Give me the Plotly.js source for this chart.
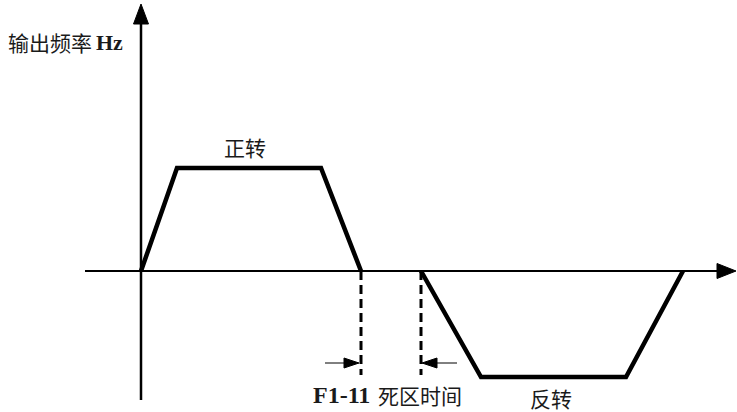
<!DOCTYPE html>
<html>
<head>
<meta charset="utf-8">
<script src="https://cdn.plot.ly/plotly-3.0.1.min.js"></script>
<style>
  html, body { margin: 0; padding: 0; background: #ffffff; }
  #chart { width: 737px; height: 412px; }
</style>
</head>
<body>
<div id="chart"></div>
<script>
// time axis (sketch units) and output frequency (sketch units)
var fwdTime = [0, 36, 180, 220];
var fwdFreq = [0, 103, 103, 0];
var revTime = [280, 340, 485, 542];
var revFreq = [0, -106, -106, 0];
var deadStart = 220;   // end of forward run
var deadEnd = 280;     // start of reverse run
var deadDepth = -104;  // how far the dashed markers drop

var ink = "#000000";
var textInk = "#1a1a1a";
var cjk = "Noto Sans CJK SC, sans-serif";
var serif = "Liberation Serif, DejaVu Serif, serif";

// filled arrow head, tip at (x,y), pointing dir ("up","right","left")
function head(x, y, dir, len, half) {
    var p;
    if (dir == "up") p = [[x, y], [x - half, y - len], [x + half, y - len]];
    else if (dir == "right") p = [[x, y], [x - len, y + half], [x - len, y - half]];
    else p = [[x, y], [x + len, y + half], [x + len, y - half]];
    return {
        type: "path", xref: "x", yref: "y",
        path: "M" + p.map(function (q) { return q[0] + "," + q[1]; }).join("L") + "Z",
        fillcolor: ink, line: { color: ink, width: 1 }
    };
}

var traces = [
    { x: [-56, 577], y: [0, 0], mode: "lines", line: { color: ink, width: 2 } },
    { x: [0, 0], y: [-129, 248], mode: "lines", line: { color: ink, width: 2.5 } },
    { x: fwdTime, y: fwdFreq, mode: "lines", line: { color: ink, width: 4.5 } },
    { x: revTime, y: revFreq, mode: "lines", line: { color: ink, width: 4.5 } },
    { x: [deadStart, deadStart], y: [0, deadDepth], mode: "lines", line: { color: ink, width: 3, dash: "9px,5px" } },
    { x: [deadEnd, deadEnd], y: [0, deadDepth], mode: "lines", line: { color: ink, width: 3, dash: "9px,5px" } },
    { x: [deadStart - 36, deadStart - 10], y: [-92, -92], mode: "lines", line: { color: ink, width: 1 } },
    { x: [deadEnd + 10, deadEnd + 36], y: [-92, -92], mode: "lines", line: { color: ink, width: 1 } }
];

var shapes = [
    head(595, 0, "right", 19, 7.5),
    head(0, 267, "up", 20, 7.5),
    head(deadStart - 2, -92, "right", 15, 5),
    head(deadEnd + 1, -92, "left", 15, 5)
];

var annotations = [
    { x: -135, y: 229, xanchor: "left", yanchor: "middle", showarrow: false,
      text: "输出频率", font: { family: cjk, size: 21, color: textInk } },
    { x: -47, y: 229, xanchor: "left", yanchor: "middle", showarrow: false,
      text: "<b>Hz</b>", font: { family: serif, size: 22, color: textInk } },
    { x: 104, y: 124, xanchor: "center", yanchor: "middle", showarrow: false,
      text: "正转", font: { family: cjk, size: 21, color: textInk } },
    { x: 170, y: -124, xanchor: "left", yanchor: "middle", showarrow: false,
      text: "<b>F1-11</b>", font: { family: serif, size: 24, color: textInk } },
    { x: 235, y: -124, xanchor: "left", yanchor: "middle", showarrow: false,
      text: "死区时间", font: { family: cjk, size: 21, color: textInk } },
    { x: 410, y: -127, xanchor: "center", yanchor: "middle", showarrow: false,
      text: "反转", font: { family: cjk, size: 21, color: textInk } }
];

var layout = {
    width: 737, height: 412,
    margin: { l: 0, r: 0, t: 0, b: 0 },
    paper_bgcolor: "#ffffff", plot_bgcolor: "#ffffff",
    showlegend: false,
    xaxis: { range: [-141, 596], visible: false, fixedrange: true },
    yaxis: { range: [-141, 271], visible: false, fixedrange: true },
    shapes: shapes,
    annotations: annotations
};

Plotly.newPlot("chart", traces, layout, { displayModeBar: false, staticPlot: true });
</script>
</body>
</html>
